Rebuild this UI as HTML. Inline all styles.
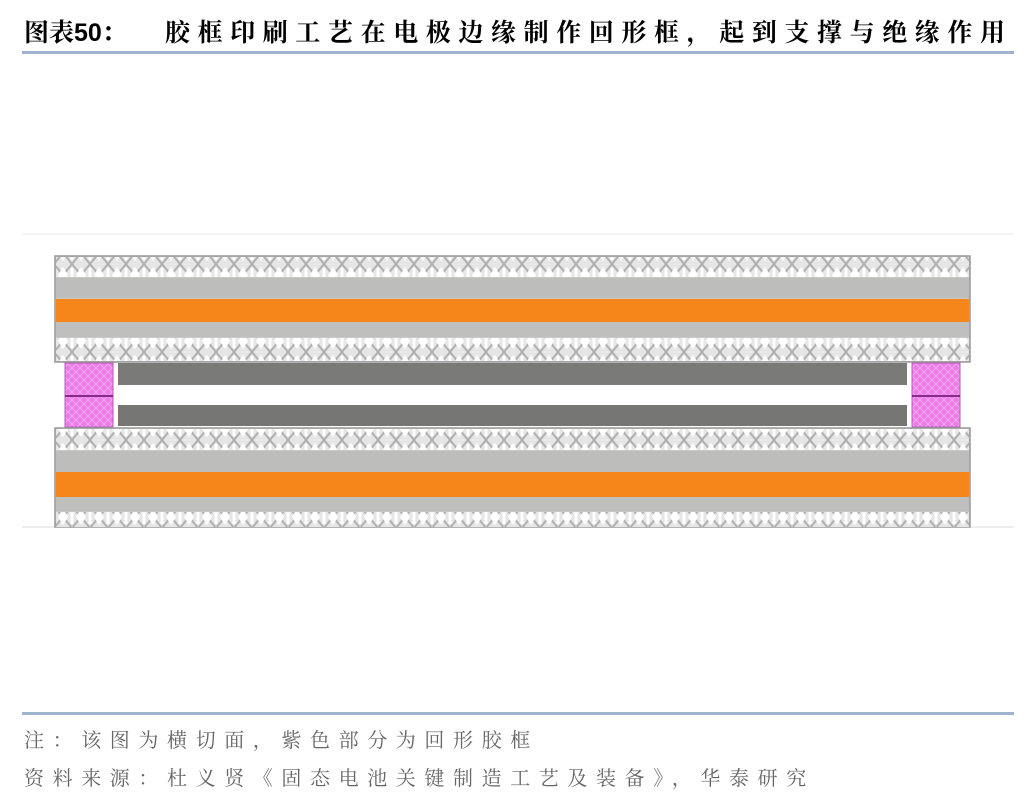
<!DOCTYPE html>
<html><head><meta charset="utf-8"><style>
body{margin:0;width:1036px;height:804px;background:#fff;position:relative;overflow:hidden;font-family:"Liberation Sans","Noto Sans CJK SC",sans-serif}
.t{position:absolute;left:24px;top:13px;font-size:25px;font-weight:bold;color:#000;white-space:nowrap;font-family:"Liberation Sans","Noto Serif CJK SC",serif}
.t span{letter-spacing:7.6px;position:absolute;left:141px;top:0}
.l{position:absolute;left:22px;width:992px;height:3px;background:#9fb3cf}
.f{position:absolute;left:24px;font-size:20px;color:#666;letter-spacing:8.6px;white-space:nowrap;font-family:"Liberation Serif","Noto Serif CJK SC",serif}
</style></head><body>
<div class="t">图表50：<span>胶框印刷工艺在电极边缘制作回形框，起到支撑与绝缘作用</span></div>
<div class="l" style="top:51px"></div>
<svg style="position:absolute;left:0;top:0" width="1036" height="804">
<defs>
<pattern id="h" width="18" height="22" patternUnits="userSpaceOnUse">
<rect width="18" height="22" fill="#e6e6e6"/>
<path d="M0 0L18 22M18 0L0 22" stroke="#b0b0b0" stroke-width="2"/>
<path d="M9 3L14 11L9 19L4 11Z" fill="#fff"/>
<path d="M0 4L0 18M18 4L18 18" stroke="#fff" stroke-width="3"/>
</pattern>
<pattern id="m" width="8" height="8" patternUnits="userSpaceOnUse">
<rect width="8" height="8" fill="#ec7ae8"/>
<path d="M0 0L8 8M8 0L0 8" stroke="#f6a8f2" stroke-width="1"/>
</pattern>
</defs>
<line x1="22" y1="234" x2="1014" y2="234" stroke="#e8e8ee" stroke-width="1"/>
<line x1="22" y1="527" x2="1014" y2="527" stroke="#ddd" stroke-width="1"/>
<rect x="55" y="256" width="915" height="106" fill="#c8c8c6" stroke="#999" stroke-width="1.5"/>
<rect x="56" y="257" width="913" height="20" fill="url(#h)"/>
<rect x="56" y="278" width="913" height="20" fill="#bdbdbb"/>
<rect x="56" y="299" width="913" height="23" fill="#f7861a"/>
<rect x="56" y="322" width="913" height="15" fill="#bfbfbd"/>
<rect x="56" y="338" width="913" height="23" fill="url(#h)"/>
<rect x="118" y="363" width="789" height="22" fill="#7a7a78"/>
<rect x="118" y="385" width="789" height="20" fill="#fff"/>
<rect x="118" y="405" width="789" height="21" fill="#767674"/>
<rect x="65" y="363" width="48" height="64" fill="url(#m)" stroke="#b45ab0" stroke-width="1"/>
<line x1="65" y1="396" x2="113" y2="396" stroke="#8a2a88" stroke-width="2"/>
<rect x="912" y="363" width="48" height="64" fill="url(#m)" stroke="#b45ab0" stroke-width="1"/>
<line x1="912" y1="396" x2="960" y2="396" stroke="#8a2a88" stroke-width="2"/>
<rect x="55" y="428" width="915" height="99" fill="#c8c8c6" stroke="#999" stroke-width="1.5"/>
<rect x="56" y="429" width="913" height="21" fill="url(#h)"/>
<rect x="56" y="451" width="913" height="21" fill="#bdbdbb"/>
<rect x="56" y="472" width="913" height="25" fill="#f7861a"/>
<rect x="56" y="497" width="913" height="14" fill="#bfbfbd"/>
<rect x="56" y="512" width="913" height="15" fill="url(#h)"/>
</svg>
<div class="l" style="top:712px"></div>
<div class="f" style="top:724px">注：该图为横切面，紫色部分为回形胶框</div>
<div class="f" style="top:762px">资料来源：杜义贤《固态电池关键制造工艺及装备》，华泰研究</div>
</body></html>
